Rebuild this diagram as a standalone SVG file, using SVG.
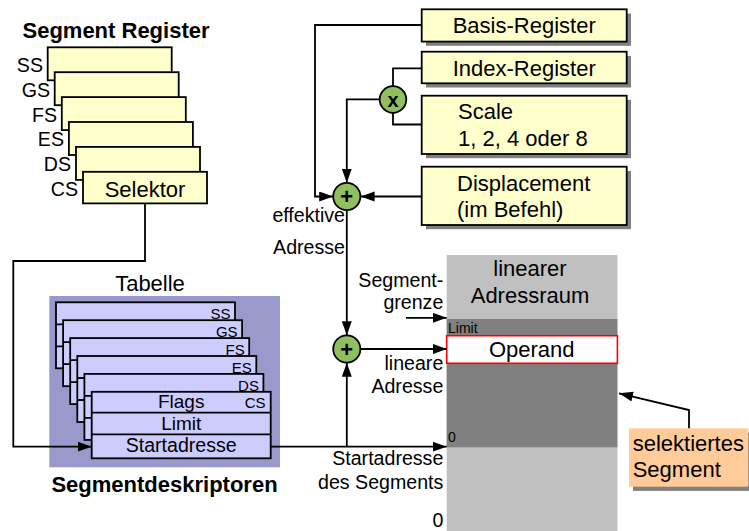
<svg xmlns="http://www.w3.org/2000/svg" width="749" height="531" viewBox="0 0 749 531">
<style>
text{font-family:"Liberation Sans",Arial,sans-serif;fill:#000}
.t22{font-size:22px}
.t20{font-size:19.6px}
.b22{font-size:22px;font-weight:bold}
.reg{fill:#ffffcc;stroke:#000;stroke-width:1.8}
.box{fill:#ffffcc;stroke:#000;stroke-width:1.8}
.shadow{fill:#808080}
.card{fill:#ccccff;stroke:#000;stroke-width:1.8}
.op{fill:#8fbf5f;stroke:#000;stroke-width:1.8}
.ln{fill:none;stroke:#000;stroke-width:1.8}
.mid{text-anchor:middle}
.end{text-anchor:end}
</style>
<defs>
<marker id="arr" markerUnits="userSpaceOnUse" markerWidth="16" markerHeight="12" refX="14" refY="5" orient="auto">
<path d="M0,0 L14,5 L0,10 Z" fill="#000"/>
</marker>
</defs>

<rect width="749" height="531" fill="#fff"/>

<!-- Segment registers -->
<g id="segment-register">
<text class="b22 mid" x="116" y="38.3">Segment Register</text>
<rect class="reg" x="47.7" y="47.3" width="124" height="33"/>
<text class="t20 end" x="43" y="71.7">SS</text>
<rect class="reg" x="54.7" y="72.2" width="124" height="33"/>
<text class="t20 end" x="50" y="96.6">GS</text>
<rect class="reg" x="61.8" y="97.1" width="124" height="33"/>
<text class="t20 end" x="57" y="121.5">FS</text>
<rect class="reg" x="68.9" y="122" width="124" height="33"/>
<text class="t20 end" x="64" y="146.4">ES</text>
<rect class="reg" x="76" y="146.9" width="124" height="33"/>
<text class="t20 end" x="71" y="171.3">DS</text>
<rect class="reg" x="83" y="171.8" width="124" height="31.6"/>
<text class="t20 end" x="78" y="195.5">CS</text>
<text class="t22 mid" x="145" y="196.7">Selektor</text>
</g>

<!-- Descriptor table -->
<g id="tabelle">
<text class="t22 mid" x="150" y="291">Tabelle</text>
<rect x="49.3" y="296" width="230.7" height="171.3" fill="#9999cc"/>
<g id="desc-ss">
<rect class="card" x="56" y="302.3" width="179" height="66"/>
<line class="ln" x1="56" y1="324.3" x2="235" y2="324.3"/>
<line class="ln" x1="56" y1="346.3" x2="235" y2="346.3"/>
<text class="end" style="font-size:15px" x="230.5" y="319">SS</text>
</g>
<g id="desc-gs">
<rect class="card" x="63.1" y="320.2" width="179" height="66"/>
<line class="ln" x1="63.1" y1="342.2" x2="242.1" y2="342.2"/>
<line class="ln" x1="63.1" y1="364.2" x2="242.1" y2="364.2"/>
<text class="end" style="font-size:15px" x="237.6" y="336.9">GS</text>
</g>
<g id="desc-fs">
<rect class="card" x="70.2" y="338.1" width="179" height="66"/>
<line class="ln" x1="70.2" y1="360.1" x2="249.2" y2="360.1"/>
<line class="ln" x1="70.2" y1="382.1" x2="249.2" y2="382.1"/>
<text class="end" style="font-size:15px" x="244.7" y="354.8">FS</text>
</g>
<g id="desc-es">
<rect class="card" x="77.3" y="356" width="179" height="66"/>
<line class="ln" x1="77.3" y1="378" x2="256.3" y2="378"/>
<line class="ln" x1="77.3" y1="400" x2="256.3" y2="400"/>
<text class="end" style="font-size:15px" x="251.8" y="372.7">ES</text>
</g>
<g id="desc-ds">
<rect class="card" x="84.4" y="373.9" width="179" height="66"/>
<line class="ln" x1="84.4" y1="395.9" x2="263.4" y2="395.9"/>
<line class="ln" x1="84.4" y1="417.9" x2="263.4" y2="417.9"/>
<text class="end" style="font-size:15px" x="258.9" y="390.6">DS</text>
</g>
<g id="desc-cs">
<rect class="card" x="91.7" y="391.8" width="179" height="66.5"/>
<line class="ln" x1="91.7" y1="412.6" x2="270.7" y2="412.6"/>
<line class="ln" x1="91.7" y1="434.4" x2="270.7" y2="434.4"/>
<text class="end" style="font-size:15px" x="265.5" y="408.4">CS</text>
<text class="mid" style="font-size:19px" x="181.2" y="407.6">Flags</text>
<text class="mid" style="font-size:19px" x="181.2" y="430">Limit</text>
<text class="mid" style="font-size:19.6px" x="181.2" y="452">Startadresse</text>
</g>
<text class="b22 mid" x="164.5" y="492">Segmentdeskriptoren</text>
</g>

<!-- Address registers -->
<g id="basis-register">
<rect class="shadow" x="426" y="13.5" width="205" height="32.3"/>
<rect class="box" x="421.7" y="9.3" width="205" height="32.3"/>
<text class="t22 mid" x="524.2" y="32.7">Basis-Register</text>
</g>
<g id="index-register">
<rect class="shadow" x="426" y="55.9" width="205" height="31.6"/>
<rect class="box" x="421.7" y="51.7" width="205" height="31.6"/>
<text class="t22 mid" x="524.2" y="76">Index-Register</text>
</g>
<g id="scale">
<rect class="shadow" x="426" y="99.9" width="205" height="58.3"/>
<rect class="box" x="421.7" y="95.7" width="205" height="58.3"/>
<text class="t22" x="458" y="119">Scale</text>
<text class="t22" x="458" y="146">1, 2, 4 oder 8</text>
</g>
<g id="displacement">
<rect class="shadow" x="426" y="170.9" width="205" height="58.3"/>
<rect class="box" x="421.7" y="166.7" width="205" height="58.3"/>
<text class="t22" x="457" y="190.5">Displacement</text>
<text class="t22" x="457" y="217">(im Befehl)</text>
</g>

<!-- Linear address space -->
<g id="adressraum">
<rect x="446.7" y="255" width="170.7" height="276" fill="#c0c0c0"/>
<rect x="446.7" y="319" width="170.7" height="128.3" fill="#808080"/>
<text class="t22 mid" x="530" y="275.7">linearer</text>
<text class="t22 mid" x="530" y="302.7">Adressraum</text>
<text style="font-size:14px" x="448" y="332.7">Limit</text>
<text style="font-size:14px" x="448" y="442.3">0</text>
</g>
<g id="operand">
<rect x="446.7" y="335.7" width="170.7" height="27.6" fill="#fff" stroke="#ff0000" stroke-width="1.6"/>
<text class="t22 mid" x="531.7" y="356.7">Operand</text>
</g>

<g id="selektiertes-segment">
<rect class="shadow" x="633" y="432.5" width="119.3" height="58.4"/>
<rect x="629" y="428.3" width="119.3" height="58.4" fill="#ffcc99"/>
<text class="t22" x="632.7" y="451">selektiertes</text>
<text class="t22" x="632.7" y="477">Segment</text>
</g>

<!-- Connectors -->
<g id="connectors">
<path class="ln" d="M145,203.4 V261 H13.3 V446.7 H91.7" marker-end="url(#arr)"/>
<path class="ln" d="M270.7,446.7 H446.7" marker-end="url(#arr)"/>
<path class="ln" d="M346.8,446.7 V362.8" marker-end="url(#arr)"/>
<path class="ln" d="M421.7,25 H315 V196.5 H333.2" marker-end="url(#arr)"/>
<path class="ln" d="M421.7,68.3 H393 V86"/>
<path class="ln" d="M393,113 V124.5 H421.7"/>
<path class="ln" d="M380,99.3 H346.8 V182.7" marker-end="url(#arr)"/>
<path class="ln" d="M421.7,196.5 H360.6" marker-end="url(#arr)"/>
<path class="ln" d="M346.8,210.3 V335.3" marker-end="url(#arr)"/>
<path class="ln" d="M360.6,349 H446.7" marker-end="url(#arr)"/>
<path class="ln" d="M406,317.8 H446.7" marker-end="url(#arr)"/>
<path class="ln" d="M689,428.3 V410 L619,393.3" marker-end="url(#arr)"/>
</g>

<!-- Operators -->
<g id="mul">
<circle class="op" cx="393" cy="99.5" r="13.3"/>
<text class="mid" style="font-size:20px;font-weight:bold" x="393" y="106.5">x</text>
</g>
<g id="add1">
<circle class="op" cx="346.8" cy="196.5" r="13.6"/>
<text class="mid" style="font-size:22px;font-weight:bold" x="346.8" y="204">+</text>
</g>
<g id="add2">
<circle class="op" cx="346.8" cy="349" r="13.6"/>
<text class="mid" style="font-size:22px;font-weight:bold" x="346.8" y="356.5">+</text>
</g>

<!-- Connector labels -->
<g id="labels">
<text class="t20 end" x="345" y="221.7">effektive</text>
<text class="t20 end" x="345" y="254">Adresse</text>
<text class="t20 end" x="443.3" y="286.7">Segment-</text>
<text class="t20 end" x="443.3" y="308.8">grenze</text>
<text class="t20 end" x="443.3" y="369.5">lineare</text>
<text class="t20 end" x="443.3" y="393.3">Adresse</text>
<text class="t20 end" x="443.3" y="465">Startadresse</text>
<text class="t20 end" x="443.3" y="488.5">des Segments</text>
<text class="t20 end" x="443.3" y="527">0</text>
</g>
</svg>
